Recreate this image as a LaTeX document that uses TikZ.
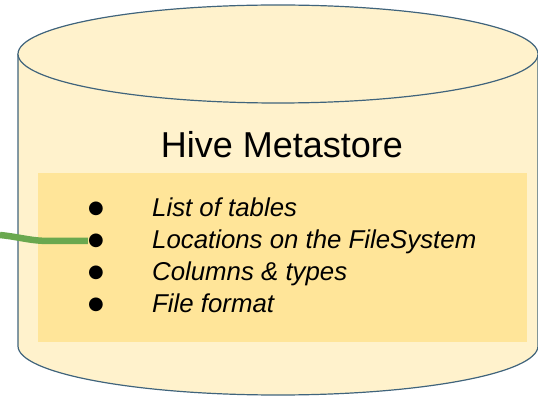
\documentclass[tikz,border=0pt]{standalone}
\usepackage{fontspec}
\setmainfont{Liberation Sans}
\newfontfamily\symfont{DejaVu Sans}
\definecolor{cylfill}{HTML}{FFF2CC}
\definecolor{cylline}{HTML}{40647C}
\definecolor{boxfill}{HTML}{FFE599}
\definecolor{linkgreen}{HTML}{6AA84F}
\begin{document}
\begin{tikzpicture}[x=1pt,y=1pt,
  cyl/.style={fill=cylfill,draw=cylline,line width=1.2pt},
  bulletdot/.style={inner sep=0pt,font=\symfont\fontsize{18}{18}\selectfont},
  itemtext/.style={inner sep=0pt,anchor=base west,font=\itshape\fontsize{25.8}{25.8}\selectfont},
  titletext/.style={inner sep=0pt,anchor=base,font=\fontsize{36}{36}\selectfont},
  link/.style={draw=linkgreen,line width=6.5pt}]
\useasboundingbox (0,0) rectangle (538,399);
% cylinder body
\path[cyl] (18,345) -- (18,53) arc[start angle=180,end angle=360,x radius=260,y radius=49] -- (538,345);
% top ellipse
\path[cyl] (278,345) ellipse[x radius=260,y radius=49];
% inner box
\fill[boxfill] (38,57) rectangle (527,226);
% title
\node[titletext] (title) at (282,241.5) {Hive Metastore};
% bullets
\node[bulletdot] (b1) at (96,190) {●};
\node[bulletdot] (b2) at (96,158) {●};
\node[bulletdot] (b3) at (96,126) {●};
\node[bulletdot] (b4) at (96,94) {●};
\node[itemtext] (t1) at (152,182) {List of tables};
\node[itemtext] (t2) at (152,150) {Locations on the FileSystem};
\node[itemtext] (t3) at (152,118) {Columns \& types};
\node[itemtext] (t4) at (152,86) {File format};
% connector
\coordinate (gstart) at (0,164);
\draw[link] (gstart) .. controls (20,162) and (30,158) .. (50,158) -- (b2.west);
\end{tikzpicture}
\end{document}
